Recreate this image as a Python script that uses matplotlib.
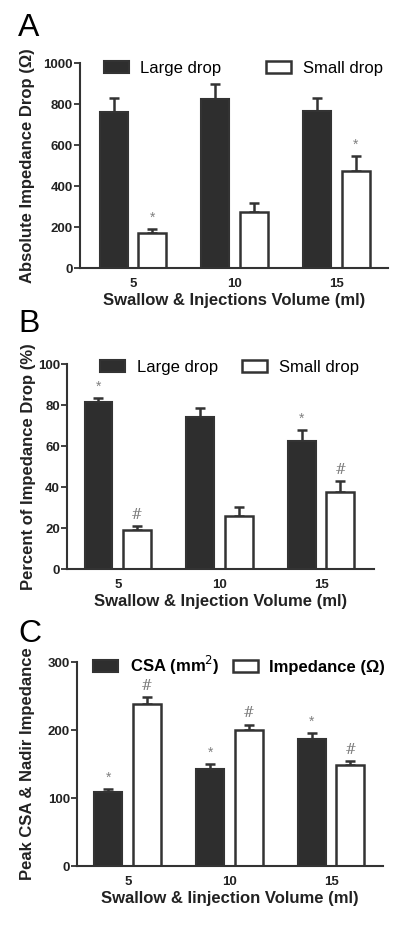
import matplotlib
matplotlib.use("Agg")
import matplotlib.pyplot as plt
from matplotlib.patches import Patch
import numpy as np

plt.rcParams["font.family"] = ["Liberation Sans", "DejaVu Sans"]

volumes = ["5", "10", "15"]

# panel A: absolute impedance drop (ohm)
a_large = [763, 824, 767]
a_large_err = [66, 73, 62]
a_small = [173, 274, 475]
a_small_err = [19, 44, 73]
a_large_mark = ["", "", ""]
a_small_mark = ["*", "", "*"]

# panel B: percent of impedance drop
b_large = [81.3, 74.1, 62.3]
b_large_err = [2.1, 4.4, 5.7]
b_small = [19.2, 26.0, 37.6]
b_small_err = [1.9, 4.2, 5.5]
b_large_mark = ["*", "", "*"]
b_small_mark = ["#", "", "#"]

# panel C: peak CSA & nadir impedance
c_csa = [109, 143, 187]
c_csa_err = [4, 7, 9]
c_imp = [239, 200, 148]
c_imp_err = [10, 8, 6]
c_csa_mark = ["*", "*", "*"]
c_imp_mark = ["#", "#", "#"]

DARK = "#2e2e2e"
EDGE = "#333333"
MARK = "#808080"

fig = plt.figure(figsize=(4.07, 9.31), dpi=100)


def panel(rect, xlim, large, large_err, small, small_err, large_mark, small_mark,
          ylim, yticks, ylabel, xlabel, labels, colspace, legend_y, ylabelpad,
          legend_bold=False):
    ax = fig.add_axes(rect)
    x = np.arange(len(volumes))
    w = 0.275
    off = 0.19
    ax.bar(x - off, large, w, color=DARK, edgecolor=EDGE, linewidth=1.5, zorder=2)
    ax.bar(x + off, small, w, color="white", edgecolor=EDGE, linewidth=1.8, zorder=2)
    for xs, vals, errs in ((x - off, large, large_err), (x + off, small, small_err)):
        ax.errorbar(xs, vals, yerr=[np.zeros(len(errs)), errs], fmt="none",
                    ecolor=EDGE, elinewidth=1.8, capsize=3.5, capthick=1.8, zorder=1)
    for xs, vals, errs, marks in ((x - off, large, large_err, large_mark),
                                  (x + off, small, small_err, small_mark)):
        for xi, v, e, m in zip(xs, vals, errs, marks):
            if m:
                fam = ["DejaVu Serif"] if m == "#" else ["Liberation Sans"]
                ax.annotate(m, (xi, v + e), xytext=(0, 3), textcoords="offset points",
                            ha="center", va="bottom", fontsize=10, color=MARK, family=fam)
    ax.set_xlim(*xlim)
    ax.set_ylim(*ylim)
    ax.set_yticks(yticks)
    ax.set_xticks(x)
    ax.set_xticklabels(volumes)
    for s in ("top", "right"):
        ax.spines[s].set_visible(False)
    for s in ("left", "bottom"):
        ax.spines[s].set_linewidth(1.5)
        ax.spines[s].set_color(EDGE)
    ax.tick_params(axis="y", length=4, width=1.3, color=EDGE, pad=1, labelsize=9.5)
    ax.tick_params(axis="x", length=0, pad=7, labelsize=9.5)
    for t in ax.get_xticklabels() + ax.get_yticklabels():
        t.set_fontweight("bold")
        t.set_color("#222222")
    ax.set_ylabel(ylabel, fontsize=12, fontweight="bold", color="#222222", labelpad=ylabelpad)
    ax.set_xlabel(xlabel, fontsize=12, fontweight="bold", color="#222222", labelpad=2)
    handles = [Patch(facecolor=DARK, edgecolor=EDGE, linewidth=1.5),
               Patch(facecolor="white", edgecolor=EDGE, linewidth=1.8)]
    ax.legend(handles, labels, loc="center", bbox_to_anchor=(0.53, legend_y), ncol=2,
              frameon=False, handlelength=1.5, handleheight=0.75,
              handletextpad=0.7, columnspacing=colspace, borderaxespad=0,
              prop={"size": 12, "weight": "bold" if legend_bold else "normal"})
    return ax


panel([0.1966, 0.7121, 0.757, 0.2202], (-0.52, 2.51), a_large, a_large_err, a_small,
      a_small_err, a_large_mark, a_small_mark, (0, 1000), [0, 200, 400, 600, 800, 1000],
      "Absolute Impedance Drop (\u03a9)", "Swallow & Injections Volume (ml)",
      ["Large drop", "Small drop"], 2.7, 0.975, 6)

panel([0.1646, 0.3888, 0.754, 0.2202], (-0.50, 2.52), b_large, b_large_err, b_small,
      b_small_err, b_large_mark, b_small_mark, (0, 100), [0, 20, 40, 60, 80, 100],
      "Percent of Impedance Drop (%)", "Swallow & Injection Volume (ml)",
      ["Large drop", "Small drop"], 1.45, 0.985, 1.5)

panel([0.189, 0.0698, 0.752, 0.2191], (-0.50, 2.51), c_csa, c_csa_err, c_imp,
      c_imp_err, c_csa_mark, c_imp_mark, (0, 300), [0, 100, 200, 300],
      "Peak CSA & Nadir Impedance", "Swallow & Iinjection Volume (ml)",
      ["CSA (mm$^2$)", "Impedance (\u03a9)"], 0.8, 0.985, 9.5, legend_bold=True)

for lab, yy in (("A", 0.986), ("B", 0.668), ("C", 0.335)):
    fig.text(0.044, yy, lab, fontsize=23, va="top", ha="left", color="black")

fig.savefig("out.png", dpi=100, facecolor="white")
